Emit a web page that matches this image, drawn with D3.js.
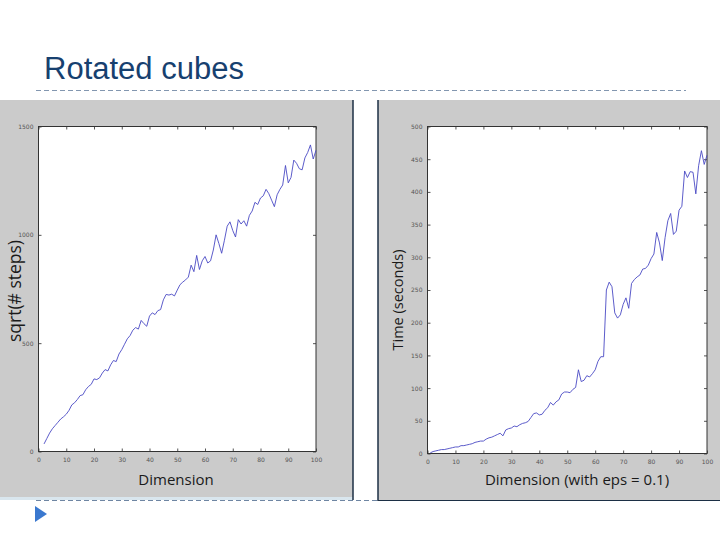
<!DOCTYPE html>
<html><head><meta charset="utf-8">
<script src="https://cdn.jsdelivr.net/npm/d3@7"></script>
<style>html,body{margin:0;padding:0;background:#fff;}svg{display:block;}</style>
</head><body>
<script>
const title = "Rotated cubes";
// Left chart: sqrt(# steps) vs Dimension (x = 2..100)
const leftX = d3.range(2, 101);
const leftY = [35,60,85,105,120,135,150,160,172,190,215,225,240,258,262,285,300,310,335,332,
  340,362,378,372,400,420,415,450,470,495,520,535,560,572,565,605,590,578,625,640,
  632,650,655,700,725,722,726,718,745,770,782,792,805,860,830,905,840,880,900,870,
  880,930,1000,960,915,975,1040,1060,1020,990,1070,1050,1065,1040,1090,1110,1150,1140,1170,1180,
  1210,1190,1160,1130,1185,1210,1230,1320,1240,1265,1345,1330,1305,1300,1355,1380,1415,1350,1390];
const leftXTicks = [0,10,20,30,40,50,60,70,80,90,100];
const leftYTicks = [0,500,1000,1500];
const leftXLabel = "Dimension";
const leftYLabel = "sqrt(# steps)";

// Right chart: Time (seconds) vs Dimension (x = 1..100)
const rightX = d3.range(1, 101);
const rightY = [1,3,4,5,6,6,7,8,9,10,10,12,12,13,14,15,17,18,19,19,
  22,24,25,27,29,31,27,36,38,39,42,41,44,46,47,49,55,61,62,59,
  60,66,70,78,74,79,82,91,94,94,93,98,101,128,110,112,119,117,122,128,
  141,148,148,250,262,255,215,207,212,228,238,222,260,266,270,273,282,283,288,298,
  305,338,322,295,330,356,367,335,340,372,378,432,422,431,430,397,440,463,442,456];
const rightXTicks = [0,10,20,30,40,50,60,70,80,90,100];
const rightYTicks = [0,50,100,150,200,250,300,350,400,450,500];
const rightXLabel = "Dimension (with eps = 0.1)";
const rightYLabel = "Time (seconds)";

const W = 720, H = 540;
const svg = d3.select("body").append("svg").attr("width", W).attr("height", H);

// Title
svg.append("text").attr("x", 44).attr("y", 79).text(title)
  .attr("font-family", "Liberation Sans, Arial, sans-serif").attr("font-size", 31)
  .attr("fill", "#17406f");
svg.append("line").attr("x1", 36).attr("x2", 686).attr("y1", 90.5).attr("y2", 90.5)
  .attr("stroke", "#8397b0").attr("stroke-width", 1).attr("stroke-dasharray", "5,3");

// Gray panels
svg.append("rect").attr("x", 0).attr("y", 100).attr("width", 353).attr("height", 397).attr("fill", "#cbcbcb");
svg.append("rect").attr("x", 0).attr("y", 497).attr("width", 353).attr("height", 3).attr("fill", "#d9e6ee");
svg.append("line").attr("x1", 353).attr("x2", 353).attr("y1", 100).attr("y2", 500).attr("stroke", "#1c2f45").attr("stroke-width", 1.5);
svg.append("rect").attr("x", 378).attr("y", 100).attr("width", 342).attr("height", 400).attr("fill", "#cbcbcb");
svg.append("line").attr("x1", 378).attr("x2", 378).attr("y1", 100).attr("y2", 501).attr("stroke", "#1c2f45").attr("stroke-width", 1.5);
svg.append("line").attr("x1", 378).attr("x2", 720).attr("y1", 500.5).attr("y2", 500.5).attr("stroke", "#1c2f45").attr("stroke-width", 1);
svg.append("line").attr("x1", 36).attr("x2", 378).attr("y1", 500.5).attr("y2", 500.5)
  .attr("stroke", "#6f86a3").attr("stroke-width", 1).attr("stroke-dasharray", "5,3");

// Bullet triangle
svg.append("path").attr("d", d3.line()([[35,506],[47,514],[35,522]]) + "Z").attr("fill", "#3a78cf");

function drawChart(cfg) {
  const g = svg.append("g");
  const x = d3.scaleLinear().domain([0, 100]).range([cfg.left, cfg.right]);
  const y = d3.scaleLinear().domain(cfg.yDomain).range([cfg.bottom, cfg.top]);
  g.append("rect").attr("x", cfg.left).attr("y", cfg.top)
    .attr("width", cfg.right - cfg.left).attr("height", cfg.bottom - cfg.top).attr("fill", "#fff");

  const fmt = d3.format("d");
  const tickStyle = sel => {
    sel.select(".domain").remove();
    sel.selectAll("line").attr("stroke", "#555");
    sel.selectAll("text").attr("font-family", "DejaVu Sans, sans-serif").attr("font-size", 6).attr("fill", "#555");
  };
  g.append("g").attr("transform", `translate(0,${cfg.bottom})`)
    .call(d3.axisBottom(x).tickValues(cfg.xTicks).tickSizeInner(-3).tickSizeOuter(0).tickPadding(6).tickFormat(fmt))
    .call(tickStyle);
  g.append("g").attr("transform", `translate(0,${cfg.top})`)
    .call(d3.axisTop(x).tickValues(cfg.xTicks).tickSizeInner(-3).tickSizeOuter(0).tickFormat(""))
    .call(tickStyle);
  g.append("g").attr("transform", `translate(${cfg.left},0)`)
    .call(d3.axisLeft(y).tickValues(cfg.yTicks).tickSizeInner(-3).tickSizeOuter(0).tickPadding(5).tickFormat(fmt))
    .call(tickStyle);
  g.append("g").attr("transform", `translate(${cfg.right},0)`)
    .call(d3.axisRight(y).tickValues(cfg.yTicks).tickSizeInner(-3).tickSizeOuter(0).tickFormat(""))
    .call(tickStyle);
  g.append("rect").attr("x", cfg.left).attr("y", cfg.top)
    .attr("width", cfg.right - cfg.left).attr("height", cfg.bottom - cfg.top)
    .attr("fill", "none").attr("stroke", "#333").attr("stroke-width", 1);
  const pts = cfg.xs.map((d, i) => [d, cfg.ys[i]]);
  g.append("path").datum(pts)
    .attr("d", d3.line().x(d => x(d[0])).y(d => y(d[1])))
    .attr("fill", "none").attr("stroke", "#4a4ac4").attr("stroke-width", 0.9);
  g.append("text").attr("x", cfg.xLabelX).attr("y", 485).attr("text-anchor", "middle")
    .text(cfg.xLabel).attr("font-family", "Open Sans, sans-serif").attr("font-size", 15).attr("fill", "#1a1a1a");
  g.append("text").attr("transform", `translate(${cfg.yLabelX},${cfg.yLabelY}) rotate(-90)`)
    .attr("text-anchor", "middle").text(cfg.yLabel)
    .attr("font-family", "Open Sans, sans-serif").attr("font-size", cfg.yLabelSize).attr("fill", "#1a1a1a");
}

drawChart({left: 38.5, right: 316, top: 126.5, bottom: 451.5, yDomain: [0, 1500],
  xs: leftX, ys: leftY, xTicks: leftXTicks, yTicks: leftYTicks,
  xLabel: leftXLabel, yLabel: leftYLabel, xLabelX: 176, yLabelX: 21, yLabelY: 291, yLabelSize: 17.5});
drawChart({left: 427.5, right: 707, top: 126.5, bottom: 453.5, yDomain: [0, 500],
  xs: rightX, ys: rightY, xTicks: rightXTicks, yTicks: rightYTicks,
  xLabel: rightXLabel, yLabel: rightYLabel, xLabelX: 577, yLabelX: 403, yLabelY: 300, yLabelSize: 14.5});
</script>
</body></html>
